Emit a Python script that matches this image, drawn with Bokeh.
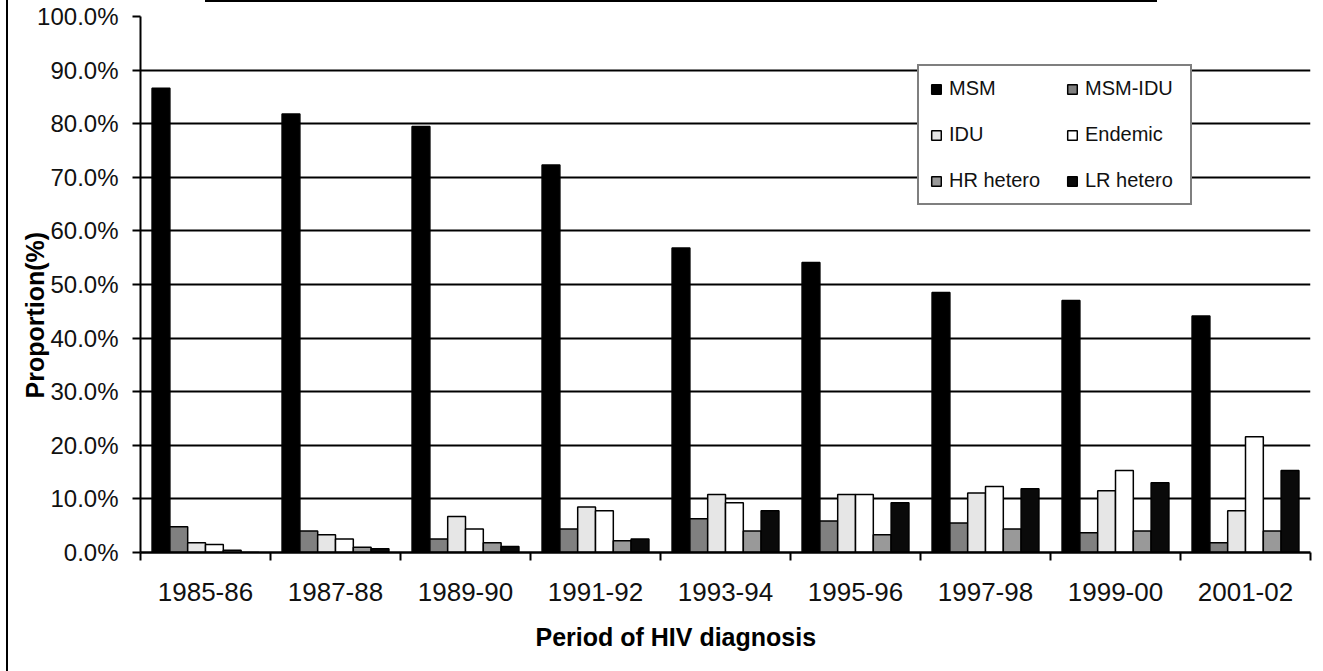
from bokeh.plotting import figure
from bokeh.models import (Range1d, FixedTicker, NumeralTickFormatter, Legend,
                          LegendItem, Title, InlineStyleSheet)
from bokeh.embed import file_html
from bokeh.resources import INLINE

# ---- data (percent) ----
periods = ["1985-86", "1987-88", "1989-90", "1991-92", "1993-94",
           "1995-96", "1997-98", "1999-00", "2001-02"]
groups = ["MSM", "MSM-IDU", "IDU", "Endemic", "HR hetero", "LR hetero"]
msm       = [86.6, 81.8, 79.5, 72.3, 56.8, 54.1, 48.5, 47.0, 44.1]
msm_idu   = [4.8, 4.0, 2.5, 4.4, 6.3, 5.9, 5.5, 3.7, 1.8]
idu       = [1.8, 3.3, 6.7, 8.5, 10.8, 10.8, 11.1, 11.5, 7.8]
endemic   = [1.5, 2.5, 4.4, 7.8, 9.3, 10.8, 12.3, 15.3, 21.6]
hr_hetero = [0.4, 1.0, 1.8, 2.2, 4.0, 3.3, 4.4, 4.0, 4.0]
lr_hetero = [0.0, 0.7, 1.1, 2.5, 7.8, 9.3, 11.9, 13.0, 15.3]
y_ticks = [0.0, 0.1, 0.2, 0.3, 0.4, 0.5, 0.6, 0.7, 0.8, 0.9, 1.0]

series = [msm, msm_idu, idu, endemic, hr_hetero, lr_hetero]
colors = ["#000000", "#808080", "#e6e6e6", "#ffffff", "#999999", "#0a0a0a"]

FONT = "Liberation Sans"
W = 0.137

frame_css = InlineStyleSheet(css="""
:host { position: relative; }
:host::before { content: ""; position: absolute; left: 6px; top: 0px;
  width: 2px; height: 100%; background: #000; z-index: 5; }
:host::after { content: ""; position: absolute; left: 205px; top: 0px;
  width: 952px; height: 2px; background: #000; z-index: 5; }
""")

p = figure(width=1320, height=671, output_backend="svg", toolbar_location=None,
           x_range=Range1d(0, len(periods)), y_range=Range1d(0, 1),
           min_border_left=140, min_border_right=10, min_border_top=16,
           min_border_bottom=119, background_fill_color="white",
           border_fill_color="white")
p.stylesheets = [frame_css]
p.outline_line_color = None

renderers = []
for j, (name, vals) in enumerate(zip(groups, series)):
    xs = [i + 0.5 + (j - 2.5) * W for i in range(len(periods))]
    tops = [v / 100.0 for v in vals]
    r = p.vbar(x=xs, top=tops, bottom=0, width=W, fill_color=colors[j],
               line_color="black", line_width=1.5)
    renderers.append(r)

# y axis
p.yaxis.ticker = FixedTicker(ticks=y_ticks)
p.yaxis.formatter = NumeralTickFormatter(format="0.0%")
p.yaxis.major_label_text_font = FONT
p.yaxis.major_label_text_font_size = "24px"
p.yaxis.major_label_text_color = "#111111"
p.yaxis.major_tick_out = 8
p.yaxis.major_tick_in = 0
p.yaxis.minor_tick_line_color = None
p.yaxis.axis_line_width = 2
p.yaxis.major_tick_line_width = 2
p.yaxis.major_label_standoff = 14

# y title overlapping the tick labels, as in the original
p.add_layout(Title(text="Proportion(%)", align="left", offset=154,
                   vertical_align="middle", standoff=-31,
                   text_font=FONT, text_font_style="bold",
                   text_font_size="25px", text_color="black"), "left")

# x axis: labels at centres, ticks at boundaries
centers = [i + 0.5 for i in range(len(periods))]
p.xaxis.ticker = FixedTicker(ticks=centers,
                             minor_ticks=[i for i in range(len(periods) + 1)])
p.xaxis.major_label_overrides = {c: lab for c, lab in zip(centers, periods)}
p.xaxis.major_tick_line_color = None
p.xaxis.major_tick_out = 6
p.xaxis.minor_tick_out = 8
p.xaxis.minor_tick_in = 0
p.xaxis.minor_tick_line_width = 2
p.xaxis.axis_line_width = 2.5
p.xaxis.major_label_text_font = FONT
p.xaxis.major_label_text_font_size = "26px"
p.xaxis.major_label_text_color = "#111111"
p.xaxis.major_label_standoff = 22

p.add_layout(Title(text="Period of HIV diagnosis", align="left", offset=395,
                   vertical_align="middle", standoff=37,
                   text_font=FONT, text_font_style="bold",
                   text_font_size="25px", text_color="black"), "below")

p.xgrid.visible = False
p.ygrid.ticker = FixedTicker(ticks=y_ticks[1:-1])
p.ygrid.grid_line_color = "black"
p.ygrid.grid_line_width = 2

legend = Legend(items=[LegendItem(label=g, renderers=[r])
                       for g, r in zip(groups, renderers)],
                location=(777, 347), orientation="horizontal", ncols=2,
                glyph_width=12, glyph_height=12, label_standoff=7,
                label_width=94, label_height=20, spacing=23, padding=11,
                margin=0, border_line_color="black", border_line_width=2,
                background_fill_color="white", background_fill_alpha=1,
                label_text_font=FONT, label_text_font_size="20px",
                label_text_color="#111111")
p.add_layout(legend, "center")

open("out.html", "w").write(file_html(p, INLINE))
